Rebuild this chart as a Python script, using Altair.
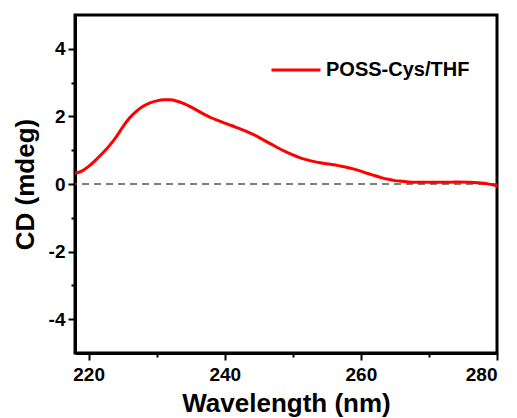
import altair as alt
import pandas as pd

wavelength = [218, 219, 220, 221, 222, 223, 224, 225, 226, 227, 228, 229, 230, 231, 232,
              233, 234, 235, 236, 237, 238, 239, 240, 241, 242, 243, 244, 245, 246, 247,
              248, 249, 250, 251, 252, 253, 254, 255, 256, 257, 258, 259, 260, 261, 262,
              263, 264, 265, 266, 267, 268, 270, 272, 274, 276, 278, 280]
cd = [0.32, 0.38, 0.52, 0.70, 0.90, 1.12, 1.38, 1.68, 1.95, 2.15, 2.30, 2.40, 2.46, 2.49, 2.49,
      2.45, 2.38, 2.28, 2.17, 2.06, 1.96, 1.88, 1.80, 1.73, 1.65, 1.57, 1.48, 1.38, 1.27, 1.16,
      1.05, 0.95, 0.86, 0.78, 0.72, 0.67, 0.63, 0.60, 0.57, 0.53, 0.49, 0.44, 0.38, 0.31, 0.25,
      0.19, 0.14, 0.10, 0.08, 0.06, 0.05, 0.05, 0.05, 0.06, 0.05, 0.02, -0.05]
series_name = "POSS-Cys/THF"
x_ticks = [220, 230, 240, 250, 260, 270, 280]
y_ticks = [-4, -3, -2, -1, 0, 1, 2, 3, 4]

df = pd.DataFrame({"wavelength": wavelength, "cd": cd, "series": series_name})
zero_df = pd.DataFrame({"y": [0]})

FONT = "Liberation Sans"

x_scale = alt.Scale(domain=[218, 280], nice=False, zero=False)
y_scale = alt.Scale(domain=[-5, 5], nice=False, zero=False)

x_axis = alt.Axis(
    title="Wavelength (nm)", values=x_ticks,
    labelExpr="datum.value % 20 == 0 ? '' + datum.value : ''",
    tickSize={"condition": {"test": "datum.value % 20 == 0", "value": 7}, "value": 4},
    labelPadding=5, titleY=58, titleBaseline="alphabetic",
)
y_axis = alt.Axis(
    title="CD (mdeg)", values=y_ticks,
    labelExpr="datum.value % 2 == 0 ? '' + datum.value : ''",
    tickSize={"condition": {"test": "datum.value % 2 == 0", "value": 7}, "value": 4},
    labelPadding=3, titleX=-42, titleBaseline="alphabetic",
)

line = alt.Chart(df).mark_line(strokeWidth=3, interpolate="monotone").encode(
    x=alt.X("wavelength:Q", scale=x_scale, axis=x_axis),
    y=alt.Y("cd:Q", scale=y_scale, axis=y_axis),
    color=alt.Color("series:N", scale=alt.Scale(domain=[series_name], range=["#ff0000"]),
                    legend=alt.Legend(title=None, orient="none", legendX=195, legendY=29,
                                      symbolType="stroke", symbolSize=2401,
                                      symbolStrokeWidth=3, labelFontSize=20,
                                      labelFontWeight="bold", labelFont=FONT,
                                      labelColor="black", labelOffset=4, padding=0)),
)

zero = alt.Chart(zero_df).mark_rule(color="#555555", strokeWidth=1.5, strokeDash=[7, 5]).encode(
    y=alt.Y("y:Q", scale=y_scale)
)

chart = alt.layer(zero, line).properties(
    width=422, height=338,
    autosize=alt.AutoSizeParams(type="none"),
    padding={"left": 67, "top": 7, "right": 12, "bottom": 65},
).configure_view(stroke="black", strokeWidth=3).configure_axis(
    grid=False, domainColor="black", domainWidth=3, tickColor="black", tickWidth=2,
    labelFont=FONT, labelFontSize=19, labelFontWeight="bold", labelColor="black",
    titleFont=FONT, titleFontSize=26, titleFontWeight="bold", titleColor="black",
)

chart.save("out.html", embed_options={"renderer": "svg", "actions": False})
